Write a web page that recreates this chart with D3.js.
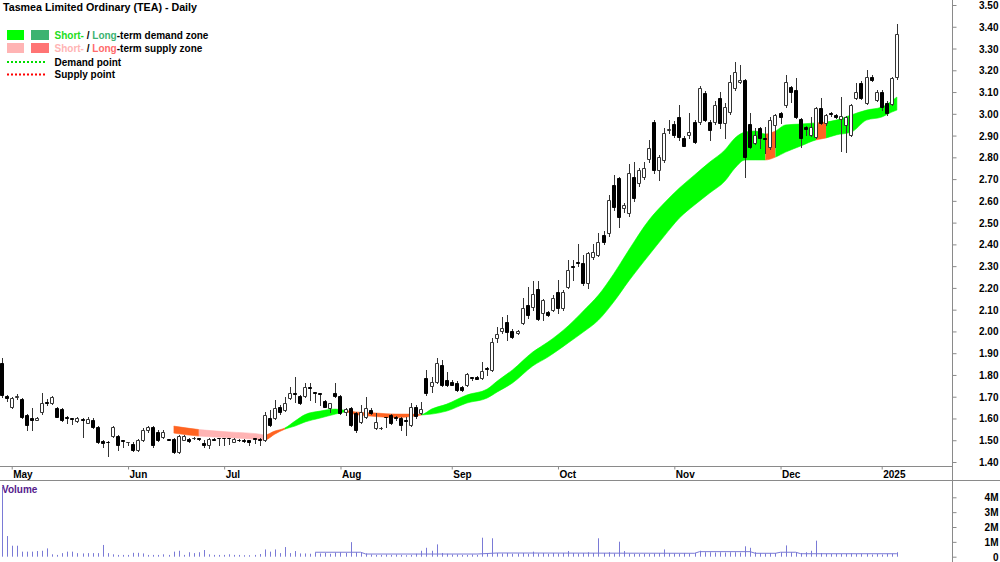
<!DOCTYPE html>
<html>
<head>
<meta charset="utf-8">
<script src="https://cdn.jsdelivr.net/npm/d3@7"></script>
<style>
html, body { margin: 0; padding: 0; background: #fff; }
svg { display: block; font-family: "Liberation Sans", Arial, sans-serif; }
</style>
</head>
<body>
<div id="chart"></div>
<script>
// ========================================
// TEA daily candles + demand/supply band
// ========================================

const chartTitle = 'Tasmea Limited Ordinary (TEA) - Daily';
const holidays = ['2024-06-10', '2024-12-25', '2024-12-26', '2025-01-01'];
const monthLabels = ['May', 'Jun', 'Jul', 'Aug', 'Sep', 'Oct', 'Nov', 'Dec', '2025'];
const priceTicks = [1.4, 1.5, 1.6, 1.7, 1.8, 1.9, 2.0, 2.1, 2.2, 2.3, 2.4, 2.5, 2.6, 2.7, 2.8, 2.9, 3.0, 3.1, 3.2, 3.3, 3.4, 3.5];
const volumeTicks = [0, 1e6, 2e6, 3e6, 4e6];

// one value per trading day, 29 Apr 2024 .. 7 Jan 2025
const opens = [
  1.855, 1.705, 1.653, 1.700, 1.689, 1.616, 1.600, 1.595, 1.630, 1.676,
  1.671, 1.648, 1.643, 1.607, 1.602, 1.590, 1.598, 1.580, 1.593, 1.560,
  1.496, 1.492, 1.519, 1.519, 1.500, 1.490, 1.482, 1.455, 1.501, 1.547,
  1.561, 1.538, 1.515, 1.505, 1.505, 1.446, 1.501, 1.505, 1.508, 1.510,
  1.487, 1.478, 1.505, 1.510, 1.510, 1.510, 1.492, 1.503, 1.501, 1.501,
  1.510, 1.505, 1.501, 1.602, 1.602, 1.653, 1.639, 1.694, 1.717, 1.703,
  1.703, 1.745, 1.720, 1.715, 1.680, 1.648, 1.717, 1.703, 1.630, 1.648,
  1.625, 1.584, 1.607, 1.639, 1.556, 1.556, 1.607, 1.616, 1.605, 1.602,
  1.595, 1.570, 1.653, 1.625, 1.786, 1.750, 1.768, 1.846, 1.777, 1.768,
  1.763, 1.745, 1.754, 1.790, 1.790, 1.786, 1.832, 1.823, 1.970, 2.002,
  2.043, 2.002, 1.993, 2.039, 2.121, 2.112, 2.195, 2.085, 2.089, 2.098,
  2.181, 2.108, 2.204, 2.301, 2.319, 2.314, 2.222, 2.342, 2.351, 2.443,
  2.452, 2.673, 2.705, 2.567, 2.544, 2.710, 2.682, 2.710, 2.792, 2.962,
  2.742, 2.788, 2.926, 2.953, 2.985, 2.889, 2.903, 2.962, 2.962, 3.096,
  2.962, 2.962, 3.073, 2.958, 3.008, 3.119, 3.146, 3.155, 2.953, 2.866,
  2.935, 2.889, 2.847, 2.949, 3.004, 3.040, 3.123, 3.109, 2.976, 2.939,
  2.903, 2.893, 3.027, 2.958, 3.004, 2.995, 2.976, 2.949, 2.903, 3.073,
  3.142, 3.050, 3.169, 3.063, 3.100, 3.050, 3.045, 3.169
];
const highs = [
  1.878, 1.708, 1.699, 1.712, 1.694, 1.620, 1.648, 1.607, 1.717, 1.690,
  1.703, 1.653, 1.648, 1.612, 1.602, 1.605, 1.600, 1.605, 1.600, 1.565,
  1.501, 1.496, 1.565, 1.524, 1.501, 1.492, 1.492, 1.505, 1.555, 1.565,
  1.565, 1.545, 1.545, 1.506, 1.510, 1.525, 1.525, 1.510, 1.515, 1.512,
  1.501, 1.510, 1.510, 1.512, 1.512, 1.512, 1.510, 1.506, 1.505, 1.503,
  1.512, 1.510, 1.630, 1.639, 1.685, 1.660, 1.699, 1.745, 1.790, 1.710,
  1.763, 1.763, 1.722, 1.717, 1.685, 1.671, 1.763, 1.708, 1.648, 1.655,
  1.630, 1.662, 1.699, 1.648, 1.625, 1.560, 1.609, 1.620, 1.612, 1.607,
  1.607, 1.671, 1.660, 1.676, 1.823, 1.790, 1.878, 1.868, 1.814, 1.775,
  1.770, 1.750, 1.810, 1.792, 1.795, 1.859, 1.835, 1.972, 2.020, 2.066,
  2.075, 2.010, 2.005, 2.154, 2.204, 2.232, 2.232, 2.150, 2.095, 2.168,
  2.236, 2.190, 2.328, 2.328, 2.400, 2.351, 2.365, 2.400, 2.452, 2.460,
  2.627, 2.719, 2.710, 2.590, 2.770, 2.778, 2.750, 2.778, 2.880, 2.970,
  2.810, 2.935, 2.970, 2.965, 3.040, 2.900, 3.004, 2.970, 3.130, 3.105,
  2.970, 3.060, 3.100, 3.050, 3.178, 3.238, 3.224, 3.160, 3.004, 2.935,
  2.940, 2.939, 2.985, 3.000, 3.010, 3.178, 3.130, 3.165, 2.980, 2.945,
  2.985, 3.030, 3.073, 3.000, 3.010, 3.000, 3.078, 2.990, 3.045, 3.142,
  3.150, 3.201, 3.180, 3.110, 3.110, 3.060, 3.170, 3.413
];
const lows = [
  1.699, 1.680, 1.650, 1.689, 1.602, 1.547, 1.547, 1.593, 1.620, 1.660,
  1.666, 1.605, 1.590, 1.580, 1.575, 1.585, 1.515, 1.578, 1.555, 1.488,
  1.469, 1.427, 1.515, 1.455, 1.470, 1.478, 1.450, 1.450, 1.496, 1.540,
  1.470, 1.496, 1.510, 1.500, 1.441, 1.441, 1.500, 1.494, 1.505, 1.500,
  1.469, 1.464, 1.500, 1.480, 1.480, 1.485, 1.490, 1.495, 1.490, 1.480,
  1.487, 1.478, 1.496, 1.565, 1.598, 1.620, 1.635, 1.690, 1.676, 1.665,
  1.700, 1.685, 1.676, 1.662, 1.653, 1.630, 1.700, 1.620, 1.616, 1.565,
  1.540, 1.580, 1.600, 1.620, 1.553, 1.553, 1.561, 1.575, 1.595, 1.547,
  1.524, 1.565, 1.600, 1.620, 1.710, 1.720, 1.763, 1.750, 1.750, 1.752,
  1.728, 1.725, 1.750, 1.775, 1.780, 1.780, 1.800, 1.818, 1.950, 1.995,
  1.960, 1.970, 1.990, 2.035, 2.060, 2.100, 2.052, 2.052, 2.070, 2.095,
  2.085, 2.100, 2.200, 2.236, 2.300, 2.213, 2.200, 2.335, 2.345, 2.400,
  2.440, 2.560, 2.480, 2.550, 2.530, 2.600, 2.670, 2.700, 2.780, 2.730,
  2.696, 2.780, 2.910, 2.895, 2.880, 2.850, 2.890, 2.865, 2.955, 2.965,
  2.880, 2.955, 2.935, 2.889, 3.000, 3.110, 3.140, 2.710, 2.843, 2.860,
  2.843, 2.820, 2.840, 2.847, 2.960, 3.030, 3.055, 2.980, 2.847, 2.903,
  2.900, 2.890, 2.955, 2.950, 2.990, 2.980, 2.830, 2.824, 2.900, 3.070,
  3.070, 3.045, 3.150, 3.060, 3.017, 2.995, 3.040, 3.160
];
const closes = [
  1.708, 1.694, 1.694, 1.705, 1.607, 1.570, 1.593, 1.602, 1.671, 1.671,
  1.699, 1.607, 1.593, 1.602, 1.598, 1.600, 1.593, 1.598, 1.560, 1.492,
  1.487, 1.490, 1.561, 1.478, 1.496, 1.490, 1.455, 1.501, 1.547, 1.561,
  1.478, 1.501, 1.538, 1.501, 1.446, 1.519, 1.519, 1.496, 1.512, 1.506,
  1.478, 1.505, 1.501, 1.508, 1.508, 1.508, 1.505, 1.500, 1.498, 1.492,
  1.505, 1.501, 1.616, 1.570, 1.648, 1.630, 1.671, 1.717, 1.712, 1.671,
  1.745, 1.738, 1.715, 1.712, 1.653, 1.671, 1.703, 1.625, 1.643, 1.570,
  1.547, 1.630, 1.648, 1.625, 1.584, 1.558, 1.605, 1.579, 1.600, 1.570,
  1.590, 1.653, 1.610, 1.643, 1.717, 1.768, 1.855, 1.754, 1.754, 1.756,
  1.731, 1.731, 1.804, 1.788, 1.781, 1.818, 1.827, 1.951, 1.988, 2.016,
  1.997, 1.974, 2.002, 2.108, 2.075, 2.172, 2.057, 2.144, 2.075, 2.154,
  2.108, 2.181, 2.282, 2.296, 2.314, 2.222, 2.360, 2.365, 2.411, 2.411,
  2.604, 2.572, 2.526, 2.581, 2.728, 2.613, 2.742, 2.751, 2.843, 2.742,
  2.801, 2.912, 2.928, 2.903, 2.893, 2.852, 2.916, 2.870, 3.119, 2.971,
  2.926, 3.040, 2.958, 3.031, 3.146, 3.192, 3.155, 2.801, 2.847, 2.903,
  2.889, 2.885, 2.971, 2.995, 2.985, 3.146, 3.100, 2.985, 2.889, 2.930,
  2.939, 3.027, 2.958, 2.995, 2.999, 2.985, 2.990, 2.985, 3.040, 3.100,
  3.073, 3.169, 3.155, 3.100, 3.031, 3.004, 3.165, 3.367
];
// volume in millions of shares
const volumesM = [
  4.70, 1.39, 0.74, 0.74, 0.34, 0.34, 0.34, 0.38, 0.40, 0.56,
  0.16, 0.12, 0.24, 0.34, 0.34, 0.24, 0.22, 0.24, 0.24, 0.24,
  0.79, 0.24, 0.16, 0.12, 0.12, 0.12, 0.26, 0.26, 0.22, 0.12,
  0.12, 0.12, 0.16, 0.12, 0.34, 0.40, 0.12, 0.30, 0.24, 0.30,
  0.45, 0.16, 0.12, 0.12, 0.12, 0.16, 0.12, 0.12, 0.10, 0.10,
  0.12, 0.18, 0.49, 0.34, 0.49, 0.24, 0.65, 0.24, 0.38, 0.22,
  0.22, 0.20, 0.29, 0.22, 0.25, 0.20, 0.28, 0.30, 0.25, 0.98,
  0.30, 0.25, 0.22, 0.15, 0.12, 0.12, 0.15, 0.12, 0.15, 0.12,
  0.10, 0.12, 0.20, 0.40, 0.60, 0.40, 0.83, 0.25, 0.20, 0.15,
  0.15, 0.12, 0.12, 0.15, 0.12, 1.28, 0.20, 1.24, 0.25, 0.22,
  0.25, 0.20, 0.22, 0.25, 0.20, 0.34, 0.22, 0.25, 0.20, 0.25,
  0.22, 0.25, 0.38, 0.25, 0.22, 0.25, 0.30, 0.25, 1.24, 0.25,
  0.30, 0.22, 1.01, 0.38, 0.22, 0.20, 0.18, 0.20, 0.20, 0.22,
  0.25, 0.49, 0.25, 0.22, 0.20, 0.25, 0.22, 0.25, 0.40, 0.30,
  0.30, 0.28, 0.30, 0.28, 0.30, 0.30, 0.28, 0.70, 0.60, 0.30,
  0.25, 0.22, 0.25, 0.25, 0.30, 0.76, 0.30, 0.28, 0.25, 0.30,
  0.40, 1.08, 0.25, 0.20, 0.18, 0.20, 0.18, 0.20, 0.22, 0.18,
  0.20, 0.20, 0.15, 0.18, 0.15, 0.20, 0.20, 0.30
];

// average volume line (read at day indexes)
const volAvgIdx = [62, 71, 72, 94, 98, 137, 138, 148, 149, 153, 154, 157, 158, 177];
const volAvgM = [0.30, 0.30, 0.18, 0.18, 0.25, 0.23, 0.34, 0.34, 0.23, 0.23, 0.30, 0.30, 0.20, 0.20];

// short/long term zone edges (read at day indexes)
const bandIdx = [34, 39, 45, 51, 52, 54, 56, 58, 60, 63, 66, 68, 70, 74, 78, 81, 83, 85, 88, 92,
  96, 98, 101, 105, 108, 112, 115, 118, 121, 124, 128, 131, 134, 137, 140, 143, 145, 147, 149, 151,
  153, 155, 158, 161, 163, 165, 168, 171, 174, 176, 177];
const bandUpper = [1.565, 1.549, 1.538, 1.528, 1.524, 1.542, 1.556, 1.588, 1.618, 1.634, 1.643, 1.637, 1.630, 1.625, 1.620, 1.620, 1.618, 1.643, 1.666, 1.708,
  1.735, 1.772, 1.823, 1.905, 1.951, 2.025, 2.094, 2.167, 2.264, 2.374, 2.512, 2.590, 2.659, 2.719, 2.778, 2.834, 2.889, 2.916, 2.921, 2.907,
  2.921, 2.949, 2.953, 2.958, 2.962, 2.971, 2.995, 3.017, 3.031, 3.059, 3.077];
const bandLower = [1.533, 1.519, 1.512, 1.503, 1.501, 1.528, 1.551, 1.565, 1.584, 1.602, 1.620, 1.630, 1.618, 1.609, 1.604, 1.609, 1.616, 1.620, 1.634, 1.671,
  1.694, 1.722, 1.763, 1.841, 1.882, 1.947, 1.997, 2.052, 2.135, 2.232, 2.351, 2.438, 2.521, 2.581, 2.636, 2.691, 2.751, 2.788, 2.788, 2.788,
  2.801, 2.824, 2.852, 2.880, 2.889, 2.903, 2.916, 2.971, 2.985, 3.008, 3.017];

const zoneStart = [34, 39, 52, 56, 68, 83, 151, 153, 161, 163];
const zoneEnd = [39, 52, 56, 68, 83, 151, 153, 161, 163, 177];
const zoneType = ['supply', 'weakSupply', 'supply', 'demand', 'supply', 'demand', 'supply', 'demand', 'supply', 'demand'];

(function () {
    'use strict';

    const W = 1000, H = 562;
    const AXIS_X = 952;
    const FONT = 'bold 10px "Liberation Sans", Arial, sans-serif';
    const TITLE_FONT = 'bold 10.7px "Liberation Sans", Arial, sans-serif';
    const zoneColor = { demand: '#00FF00', supply: '#FF6422', weakSupply: '#FFB4B4' };
    const volColor = '#7A7AD6';
    const lineGrey = '#8A8A8A';

    // trading calendar
    const tradingDays = [];
    const d = new Date(Date.UTC(2024, 3, 29));
    const end = Date.UTC(2025, 0, 7);
    while (d.getTime() <= end) {
        const iso = d.toISOString().slice(0, 10);
        const wd = d.getUTCDay();
        if (wd !== 0 && wd !== 6 && !holidays.includes(iso)) tradingDays.push(iso);
        d.setUTCDate(d.getUTCDate() + 1);
    }
    const n = tradingDays.length;
    const monthIdx = [];
    for (let i = 1; i < n; i++) {
        if (tradingDays[i].slice(5, 7) !== tradingDays[i - 1].slice(5, 7)) monthIdx.push(i);
    }

    const candles = d3.range(n).map(i => ({
        i, date: tradingDays[i], o: opens[i], h: highs[i], l: lows[i], c: closes[i], v: volumesM[i] * 1e6
    }));

    const x = d3.scaleLinear().domain([0, n - 1]).range([1.6, 1.6 + (n - 1) * 5.058]);
    const y = d3.scaleLinear().domain([1.4, 3.5]).range([462, 5]);
    const yv = d3.scaleLinear().domain([0, 4e6]).range([556.7, 497.3]);

    const svg = d3.select('#chart').append('svg')
        .attr('width', W).attr('height', H)
        .attr('xmlns', 'http://www.w3.org/2000/svg');

    svg.append('rect').attr('width', W).attr('height', H).attr('fill', '#fff');

    const defs = svg.append('defs');

    // ---- band (demand / supply zones)
    const band = bandIdx.map((b, k) => ({ i: b, u: bandUpper[k], l: bandLower[k] }));
    const area = d3.area()
        .x(p => x(p.i))
        .y0(p => y(p.l))
        .y1(p => y(p.u))
        .curve(d3.curveMonotoneX);

    const gBand = svg.append('g');
    zoneStart.forEach((s, k) => {
        const id = 'zone-' + k;
        defs.append('clipPath').attr('id', id)
            .append('rect')
            .attr('x', x(s)).attr('y', 0)
            .attr('width', x(zoneEnd[k]) - x(s) + (k === zoneStart.length - 1 ? 2 : 0))
            .attr('height', 466);
        gBand.append('path')
            .datum(band)
            .attr('d', area)
            .attr('fill', zoneColor[zoneType[k]])
            .attr('stroke', zoneColor[zoneType[k]])
            .attr('stroke-width', 0.6)
            .attr('clip-path', `url(#${id})`);
    });

    // ---- candles
    const gCandle = svg.append('g');
    const crisp = v => Math.round(v) + 0.5;

    gCandle.selectAll('line.wick').data(candles).enter().append('line')
        .attr('class', 'wick')
        .attr('x1', c => crisp(x(c.i))).attr('x2', c => crisp(x(c.i)))
        .attr('y1', c => Math.round(y(c.h))).attr('y2', c => Math.round(y(c.l)) + 1)
        .attr('stroke', '#333').attr('stroke-width', 1);

    gCandle.selectAll('path.body').data(candles).enter().append('path')
        .attr('class', 'body')
        .attr('d', c => {
            const cx = Math.round(x(c.i));
            const top = crisp(y(Math.max(c.o, c.c)));
            const bot = crisp(y(Math.min(c.o, c.c)));
            return `M${cx - 1.5},${top}H${cx + 1.5}V${bot}H${cx - 1.5}Z`;
        })
        .attr('fill', c => c.c >= c.o ? '#fff' : '#000')
        .attr('stroke', c => c.c >= c.o ? '#333' : '#000')
        .attr('stroke-width', 1);

    // ---- frame lines
    svg.append('line').attr('x1', 0).attr('x2', AXIS_X).attr('y1', 466.5).attr('y2', 466.5)
        .attr('stroke', lineGrey);
    svg.append('line').attr('x1', 0).attr('x2', W).attr('y1', 480.5).attr('y2', 480.5)
        .attr('stroke', lineGrey);
    svg.append('line').attr('x1', AXIS_X + 0.5).attr('x2', AXIS_X + 0.5).attr('y1', 0).attr('y2', H)
        .attr('stroke', lineGrey);

    // ---- price axis
    const yAxis = svg.append('g')
        .attr('transform', `translate(${AXIS_X + 0.5},0)`)
        .call(d3.axisRight(y).tickValues(priceTicks).tickFormat(d3.format('.2f')).tickSize(4));
    yAxis.select('.domain').remove();
    yAxis.selectAll('.tick line').attr('stroke', lineGrey);
    yAxis.selectAll('.tick text')
        .attr('x', 46).attr('text-anchor', 'end').attr('dy', '0.35em')
        .style('font', FONT).attr('fill', '#000');

    // ---- date axis
    const xAxis = svg.append('g')
        .attr('transform', 'translate(0,466.5)')
        .call(d3.axisBottom(x).tickValues(monthIdx)
            .tickFormat((t, k) => monthLabels[k]).tickSize(3));
    xAxis.select('.domain').remove();
    xAxis.selectAll('.tick line').attr('stroke', lineGrey);
    xAxis.selectAll('.tick text')
        .attr('x', 1).attr('y', 11).attr('dy', 0).attr('text-anchor', 'start')
        .style('font', FONT).attr('fill', '#000');

    // ---- volume
    const gVol = svg.append('g');
    gVol.selectAll('line').data(candles).enter().append('line')
        .attr('x1', c => crisp(x(c.i))).attr('x2', c => crisp(x(c.i)))
        .attr('y1', yv(0)).attr('y2', c => yv(c.v))
        .attr('stroke', volColor).attr('stroke-width', 1);

    const volAvg = volAvgIdx.map((b, k) => ({ i: b, v: volAvgM[k] * 1e6 }));
    gVol.append('path').datum(volAvg)
        .attr('d', d3.line().x(p => x(p.i)).y(p => yv(p.v)))
        .attr('fill', 'none').attr('stroke', volColor).attr('stroke-width', 1);

    const vAxis = svg.append('g')
        .attr('transform', `translate(${AXIS_X + 0.5},0)`)
        .call(d3.axisRight(yv).tickValues(volumeTicks)
            .tickFormat(v => v === 0 ? '0' : (v / 1e6) + 'M').tickSize(4));
    vAxis.select('.domain').remove();
    vAxis.selectAll('.tick line').attr('stroke', lineGrey);
    vAxis.selectAll('.tick text')
        .attr('x', 46).attr('text-anchor', 'end').attr('dy', '0.35em')
        .style('font', FONT).attr('fill', '#000');

    svg.append('text').attr('x', 2).attr('y', 493)
        .style('font', FONT).attr('fill', '#55208C').text('Volume');

    // ---- title and legend
    svg.append('text').attr('x', 3).attr('y', 11)
        .style('font', TITLE_FONT).attr('fill', '#000').text(chartTitle);

    const legend = svg.append('g');
    const rows = [
        { y: 30, c1: '#00FF00', c2: '#3CB371', t1: '#22DD22', t2: '#3CB371', rest: '-term demand zone' },
        { y: 43, c1: '#FFB4B4', c2: '#FF7474', t1: '#FFB4B4', t2: '#FF6A6A', rest: '-term supply zone' }
    ];
    rows.forEach(r => {
        legend.append('rect').attr('x', 7).attr('y', r.y).attr('width', 17).attr('height', 10).attr('fill', r.c1);
        legend.append('rect').attr('x', 31).attr('y', r.y).attr('width', 18).attr('height', 10).attr('fill', r.c2);
        const t = legend.append('text').attr('x', 54.5).attr('y', r.y + 8.5).style('font', FONT);
        t.append('tspan').attr('fill', r.t1).text('Short-');
        t.append('tspan').attr('fill', '#000').text(' / ');
        t.append('tspan').attr('fill', r.t2).text('Long');
        t.append('tspan').attr('fill', '#000').text(r.rest);
    });
    [{ y: 62, c: '#00DD00', t: 'Demand point' }, { y: 74.5, c: '#FF0000', t: 'Supply point' }].forEach(r => {
        legend.append('line').attr('x1', 7).attr('x2', 46).attr('y1', r.y).attr('y2', r.y)
            .attr('stroke', r.c).attr('stroke-width', 2).attr('stroke-dasharray', '2,2');
        legend.append('text').attr('x', 54.5).attr('y', r.y + 3.5).style('font', FONT)
            .attr('fill', '#000').text(r.t);
    });
})();
</script>
</body>
</html>
